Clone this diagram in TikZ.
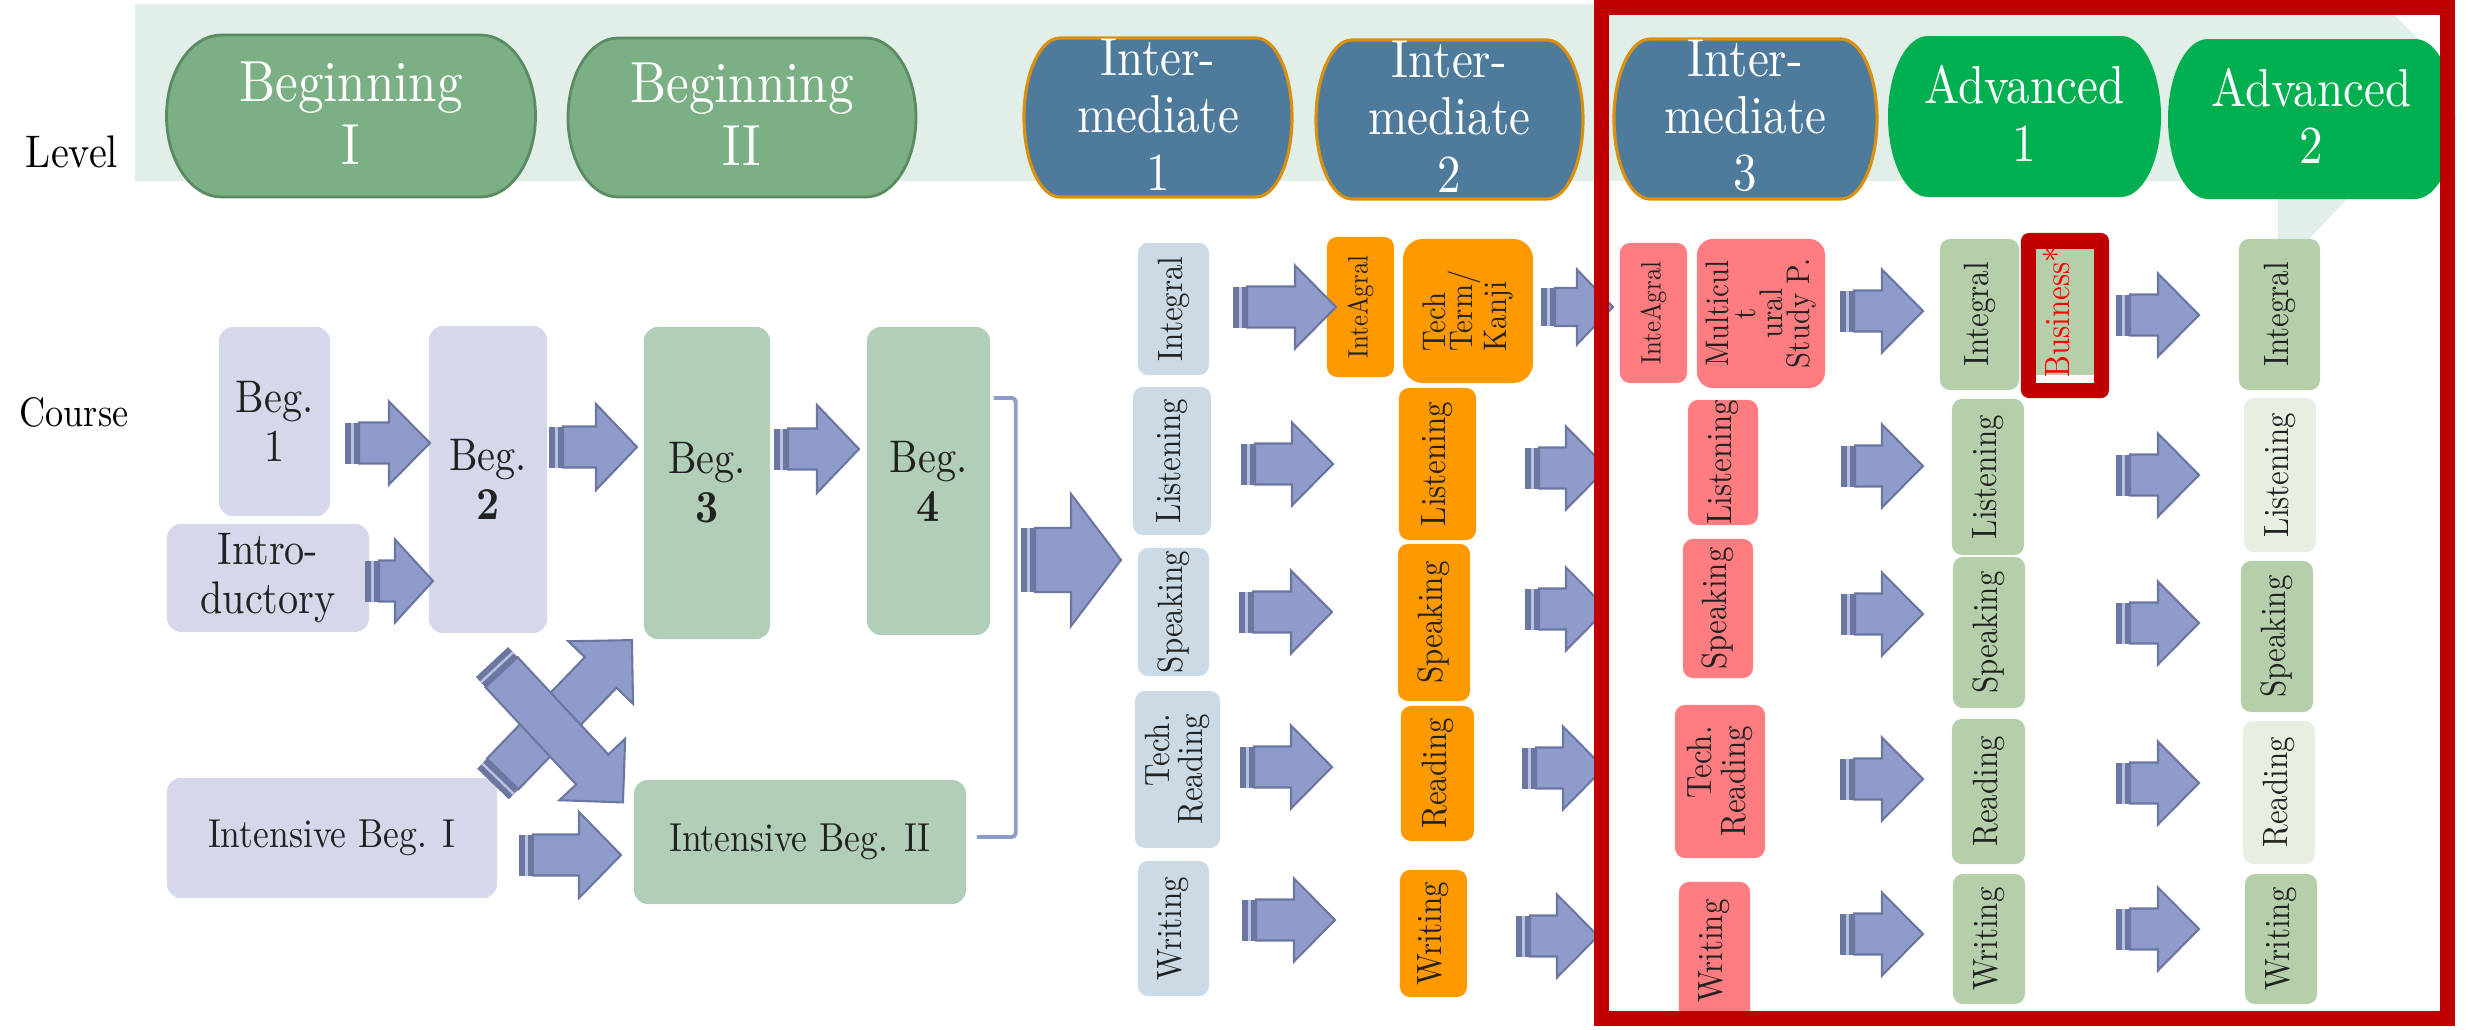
\documentclass[tikz,border=0pt]{standalone}
\usepackage{fontspec}
\setmainfont{lmroman10-regular.otf}[FakeStretch=0.88, BoldFont=lmroman10-bold.otf]
\usetikzlibrary{positioning}

% colours
\definecolor{bandfill}{HTML}{E2EFE9}
\definecolor{begfill}{HTML}{7BAF84}
\definecolor{begline}{HTML}{5A8B62}
\definecolor{intfill}{HTML}{4E7B9C}
\definecolor{intline}{HTML}{D9900F}
\definecolor{advpillfill}{HTML}{00B050}
\definecolor{lavfill}{HTML}{D5D8EB}
\definecolor{grnfill}{HTML}{B1CEB8}
\definecolor{ionefill}{HTML}{CBDAE4}
\definecolor{orngfill}{HTML}{FF9900}
\definecolor{salmfill}{HTML}{FF7C80}
\definecolor{advfill}{HTML}{B5CFAB}
\definecolor{advlight}{HTML}{E6EFE2}
\definecolor{arrowfill}{HTML}{8F9CCB}
\definecolor{arrowline}{HTML}{6B77A0}
\definecolor{arrowlight}{HTML}{B9C1E2}
\definecolor{bracketline}{HTML}{8F9CCB}
\definecolor{framered}{HTML}{C00000}
\definecolor{busred}{HTML}{FF0000}
\definecolor{inktext}{HTML}{222222}

\tikzset{
  lvltext/.style={text=white, align=center, inner sep=0pt, font=\fontsize{15.2}{16.3}\selectfont},
  begtext/.style={lvltext, font=\fontsize{16.5}{17.9}\selectfont},
  begpill/.style={fill=begfill, draw=begline, line width=0.8pt},
  intpill/.style={fill=intfill, draw=intline, line width=0.9pt},
  advpill/.style={fill=advpillfill},
  coursebox/.style={rounded corners=0.14cm, inner sep=0pt, align=center, text=inktext, font=\fontsize{13}{14}\selectfont},
  colbox/.style={rounded corners=0.1cm, inner sep=0pt, align=center, rotate=90, text=inktext, font=\fontsize{10}{9.5}\selectfont},
  smalltext/.style={font=\fontsize{8}{8}\selectfont},
  packed/.style={font=\fontsize{9.3}{7.6}\selectfont},
  arrowbody/.style={fill=arrowfill, draw=arrowline, line width=0.6pt},
  bracket/.style={draw=bracketline, line width=1.1pt, rounded corners=0.04cm},
}

% level pill: name, centre x, centre y, half width, half height, shape style, side radius, text style, text
\newcommand{\levelpill}[9]{%
  \path[#6] (#2-#4+#7,#3-#5) -- (#2+#4-#7,#3-#5)
    arc[start angle=-90, end angle=90, x radius=#7, y radius=#5]
    -- (#2-#4+#7,#3+#5)
    arc[start angle=90, end angle=270, x radius=#7, y radius=#5] -- cycle;
  \node[#8] (#1) at (#2,#3-3) {#9};}

% striped block arrow: tail x, tail y, length, angle, shaft half, head half, head length
\newcommand{\stripedarrow}[7]{%
  \begin{scope}[shift={(#1,#2)}, rotate=#4]
    \fill[arrowline] (0,-#5) rectangle (14,#5);
    \fill[arrowlight] (6,-#5) rectangle (8.5,#5);
    \draw[arrowbody] (14,-#5) -- (#3-#7,-#5) -- (#3-#7,-#6) -- (#3,0)
      -- (#3-#7,#6) -- (#3-#7,#5) -- (14,#5) -- cycle;
  \end{scope}}

\begin{document}
\begin{tikzpicture}[x=0.01cm, y=-0.01cm]
\useasboundingbox (0,0) rectangle (2471,1030);

% level band with its pointer
\fill[bandfill] (135,4) -- (2383,4) -- (2455,76) -- (2455,181) -- (2364,181)
  -- (2278,272) -- (2278,181) -- (135,181) -- cycle;

% levels
\levelpill{begi}{351}{116}{184.5}{81}{begpill}{55}{begtext}{Beginning\\I}
\levelpill{begii}{742}{117.5}{174}{79.5}{begpill}{50}{begtext}{Beginning\\II}
\levelpill{inti}{1158}{117.5}{134}{79.5}{intpill}{36}{lvltext}{Inter-\\mediate\\1}
\levelpill{intii}{1449.5}{119.5}{133.5}{79.5}{intpill}{36}{lvltext}{Inter-\\mediate\\2}
\levelpill{intiii}{1745.5}{119}{131.5}{80}{intpill}{36}{lvltext}{Inter-\\mediate\\3}
\levelpill{advi}{2024.5}{116.5}{136.5}{80.5}{advpill}{40}{lvltext}{Advanced\\1}
\levelpill{advii}{2311.5}{119}{143.5}{80}{advpill}{40}{lvltext}{Advanced\\2}

\node[font=\fontsize{13}{14}\selectfont] (lvl) at (72,152) {Level};
\node[font=\fontsize{11.7}{13}\selectfont] (crs) at (74,412) {Course};

% beginning courses
\node[coursebox, fill=lavfill, minimum width=1.11cm, minimum height=1.89cm] (beg1) at (274.5,421.5) {Beg.\\1};
\node[coursebox, fill=lavfill, minimum width=2.02cm, minimum height=1.08cm] (intro) at (268,578) {Intro-\\ductory};
\node[coursebox, fill=lavfill, minimum width=1.18cm, minimum height=3.07cm] (beg2) at (488,479.5) {Beg.\\\textbf{2}};
\node[coursebox, fill=grnfill, minimum width=1.26cm, minimum height=3.12cm] (beg3) at (707,483) {Beg.\\\textbf{3}};
\node[coursebox, fill=grnfill, minimum width=1.23cm, minimum height=3.08cm] (beg4) at (928.5,481) {Beg.\\\textbf{4}};
\node[coursebox, fill=lavfill, minimum width=3.30cm, minimum height=1.20cm, font=\fontsize{11.5}{13}\selectfont] (ibeg1) at (332,838) {Intensive Beg. I};
\node[coursebox, fill=grnfill, minimum width=3.32cm, minimum height=1.24cm, font=\fontsize{11.5}{13}\selectfont] (ibeg2) at (800,842) {Intensive Beg. II};

\draw[bracket] ([xshift=0.03cm, yshift=0.83cm]beg4.east) -- ++(22,0) |- ([xshift=0.1cm, yshift=0.05cm]ibeg2.east);

% intermediate 1
\node[colbox, fill=ionefill, minimum width=1.32cm, minimum height=0.71cm] (i1int) at (1173.5,309) {Integral};
\node[colbox, fill=ionefill, minimum width=1.48cm, minimum height=0.78cm] (i1lis) at (1172,461) {Listening};
\node[colbox, fill=ionefill, minimum width=1.28cm, minimum height=0.71cm] (i1spk) at (1173.5,612) {Speaking};
\node[colbox, fill=ionefill, minimum width=1.57cm, minimum height=0.85cm, align=right] (i1rd) at (1177.5,769.5) {Tech.\\Reading};
\node[colbox, fill=ionefill, minimum width=1.35cm, minimum height=0.71cm] (i1wr) at (1173.5,928.5) {Writing};

% intermediate 2
\node[colbox, fill=orngfill, minimum width=1.40cm, minimum height=0.67cm, smalltext] (i2int) at (1360.5,307) {InteAgral};
\node[colbox, fill=orngfill, minimum width=1.44cm, minimum height=1.30cm, align=left, packed, rounded corners=0.2cm] (i2tech) at (1468,311) {Tech\\Term/\\Kanji};
\node[colbox, fill=orngfill, minimum width=1.52cm, minimum height=0.77cm] (i2lis) at (1437.5,464) {Listening};
\node[colbox, fill=orngfill, minimum width=1.57cm, minimum height=0.72cm] (i2spk) at (1434,622.5) {Speaking};
\node[colbox, fill=orngfill, minimum width=1.35cm, minimum height=0.73cm] (i2rd) at (1437.5,773.5) {Reading};
\node[colbox, fill=orngfill, minimum width=1.27cm, minimum height=0.67cm] (i2wr) at (1433.5,933.5) {Writing};

% intermediate 3
\node[colbox, fill=salmfill, minimum width=1.40cm, minimum height=0.67cm, smalltext] (i3int) at (1653.5,313) {InteAgral};
\node[colbox, fill=salmfill, minimum width=1.49cm, minimum height=1.28cm, packed, rounded corners=0.16cm] (i3multi) at (1761,313.5) {Multicul\\t\\ural\\Study P.};
\node[colbox, fill=salmfill, minimum width=1.25cm, minimum height=0.70cm] (i3lis) at (1723,462.5) {Listening};
\node[colbox, fill=salmfill, minimum width=1.39cm, minimum height=0.70cm] (i3spk) at (1718,608.5) {Speaking};
\node[colbox, fill=salmfill, minimum width=1.53cm, minimum height=0.90cm, align=right] (i3rd) at (1720,781.5) {Tech.\\Reading};
\node[colbox, fill=salmfill, minimum width=1.38cm, minimum height=0.71cm] (i3wr) at (1714.5,951) {Writing};

% advanced 1
\node[colbox, fill=advfill, minimum width=1.51cm, minimum height=0.79cm] (a1int) at (1979.5,314.5) {Integral};
\node[colbox, fill=advfill, minimum width=1.56cm, minimum height=0.72cm] (a1lis) at (1988,477) {Listening};
\node[colbox, fill=advfill, minimum width=1.51cm, minimum height=0.72cm] (a1spk) at (1989,632.5) {Speaking};
\node[colbox, fill=advfill, minimum width=1.45cm, minimum height=0.73cm] (a1rd) at (1988.5,791.5) {Reading};
\node[colbox, fill=advfill, minimum width=1.30cm, minimum height=0.72cm] (a1wr) at (1989,939) {Writing};

% advanced 2
\node[colbox, fill=advfill, minimum width=1.51cm, minimum height=0.81cm] (a2int) at (2279.5,314.5) {Integral};
\node[colbox, fill=advlight, minimum width=1.54cm, minimum height=0.72cm] (a2lis) at (2280,475) {Listening};
\node[colbox, fill=advfill, minimum width=1.51cm, minimum height=0.72cm] (a2spk) at (2277,636.5) {Speaking};
\node[colbox, fill=advlight, minimum width=1.43cm, minimum height=0.72cm] (a2rd) at (2279,792.5) {Reading};
\node[colbox, fill=advfill, minimum width=1.30cm, minimum height=0.72cm] (a2wr) at (2281,939) {Writing};

% business, marked in red
\node[fill=framered, rounded corners=0.08cm, minimum width=0.88cm, minimum height=1.65cm, inner sep=0pt] (busframe) at (2065,315.5) {};
\node[fill=advfill, minimum width=0.58cm, minimum height=1.26cm, inner sep=0pt] (businner) at (2065,312) {};
\node[fill=white, minimum width=0.58cm, minimum height=0.08cm, inner sep=0pt] (busstrip) at (2065,379) {};
\node[rotate=90, text=busred, inner sep=0pt, font=\fontsize{10}{10}\selectfont] (bus) at (2056,312) {Business*};

% arrows
\stripedarrow{345}{443}{85}{0}{20.5}{41.5}{41}
\stripedarrow{365}{581}{68}{0}{20.5}{41.5}{38}
\stripedarrow{549}{447}{88}{0}{20.5}{43}{41}
\stripedarrow{774}{449}{85}{0}{20.5}{44}{42}
\stripedarrow{519}{855}{102}{0}{20.5}{43}{42}
\stripedarrow{493}{784}{200}{46}{22}{45}{45}
\stripedarrow{492}{662}{192}{-47}{22}{45}{45}
\stripedarrow{1021}{560}{100}{0}{32}{66}{50}
\stripedarrow{1541}{307}{72}{0}{19}{37.5}{36}
\foreach \tx/\ty/\len in {1233/307/103, 1241/464/92, 1239/612/93, 1240/767/92, 1242/920/93,
    1525/468/82, 1525/609/82, 1522/768/82, 1516/936/82,
    1840/311/83, 1841/466/82, 1841/614/82, 1840/779/83, 1840/934/83,
    2116/315/83, 2116/475/83, 2116/623/83, 2116/783/83, 2116/929/83}
  {\stripedarrow{\tx}{\ty}{\len}{0}{20.5}{41.5}{41}}

% highlight frame
\node[draw=framered, line width=0.15cm, minimum width=8.45cm, minimum height=10.11cm, inner sep=0pt] (focus) at (2024.5,513) {};
\end{tikzpicture}
\end{document}
